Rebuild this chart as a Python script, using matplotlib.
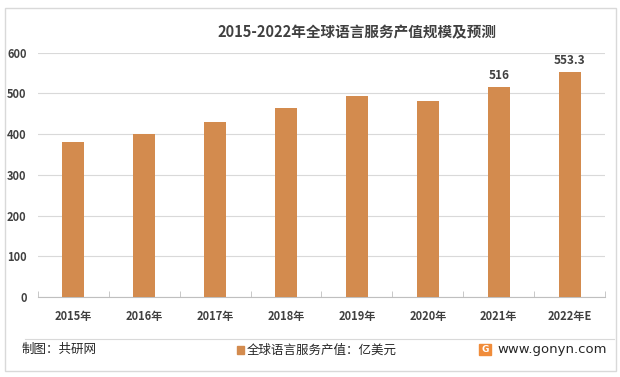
import numpy as np
import matplotlib.pyplot as plt
from matplotlib.patches import Rectangle

plt.rcParams['font.family'] = ['Noto Sans CJK SC', 'DejaVu Sans']

years = ['2015年', '2016年', '2017年', '2018年', '2019年', '2020年', '2021年', '2022年E']
values = [381, 401, 430, 465, 494, 482, 516, 553.3]
labelled = {6: '516', 7: '553.3'}

bar_color = '#D38B4E'
text_color = '#404040'

fig = plt.figure(figsize=(6.2, 3.77), dpi=100)
ax = fig.add_axes([0.061, 0.212, 0.915, 0.648])

x = np.arange(len(years))
ax.bar(x, values, width=0.31, color=bar_color, zorder=3)
for i, txt in labelled.items():
    ax.text(x[i], values[i] + 12, txt, ha='center', va='bottom',
            fontsize=8.5, fontweight='bold', color=text_color)

ax.set_xlim(-0.5, len(years) - 0.5)
ax.set_ylim(0, 600)
ax.set_yticks(np.arange(0, 700, 100))
ax.set_xticks(x)
ax.set_xticklabels(years, fontsize=8, fontweight='bold', color=text_color)
ax.tick_params(axis='y', labelsize=8, colors=text_color, length=0, pad=8)
ax.tick_params(axis='x', length=0, pad=9)
for lbl in ax.get_yticklabels():
    lbl.set_fontweight('bold')
ax.grid(axis='y', color='#d9d9d9', linewidth=0.8, zorder=0)
for s in ['top', 'right', 'left']:
    ax.spines[s].set_visible(False)
ax.spines['bottom'].set_color('#bfbfbf')
# small dividers between the categories
ax.set_xticks(np.arange(-0.5, len(years), 1), minor=True)
ax.tick_params(axis='x', which='minor', length=4, color='#bfbfbf', direction='in')

fig.text(0.575, 0.915, '2015-2022年全球语言服务产值规模及预测', ha='center', va='center',
         fontsize=10.5, fontweight='bold', color=text_color)

# footer
fig.add_artist(plt.Line2D([0.04, 0.99], [0.102, 0.102], color='#d9d9d9', linewidth=0.8))
fig.text(0.035, 0.072, '制图：共研网', ha='left', va='center', fontsize=9, color='#262626')
fig.add_artist(Rectangle((0.383, 0.062), 0.011, 0.02, color=bar_color, transform=fig.transFigure))
fig.text(0.398, 0.072, '全球语言服务产值：亿美元', ha='left', va='center', fontsize=9, color='#262626')
fig.add_artist(Rectangle((0.773, 0.058), 0.019, 0.03, color='#F08C3A', transform=fig.transFigure))
fig.text(0.7825, 0.073, 'G', ha='center', va='center', fontsize=6.5, fontweight='bold',
         color='white', family='DejaVu Sans')
fig.text(0.802, 0.074, 'www.gonyn.com', ha='left', va='center', fontsize=9.5, color='#262626',
         family='DejaVu Sans')

# outer border
fig.add_artist(Rectangle((0.008, 0.015), 0.985, 0.965, fill=False, edgecolor='#d9d9d9',
                         linewidth=1, transform=fig.transFigure))

fig.savefig('out.png', dpi=100)
